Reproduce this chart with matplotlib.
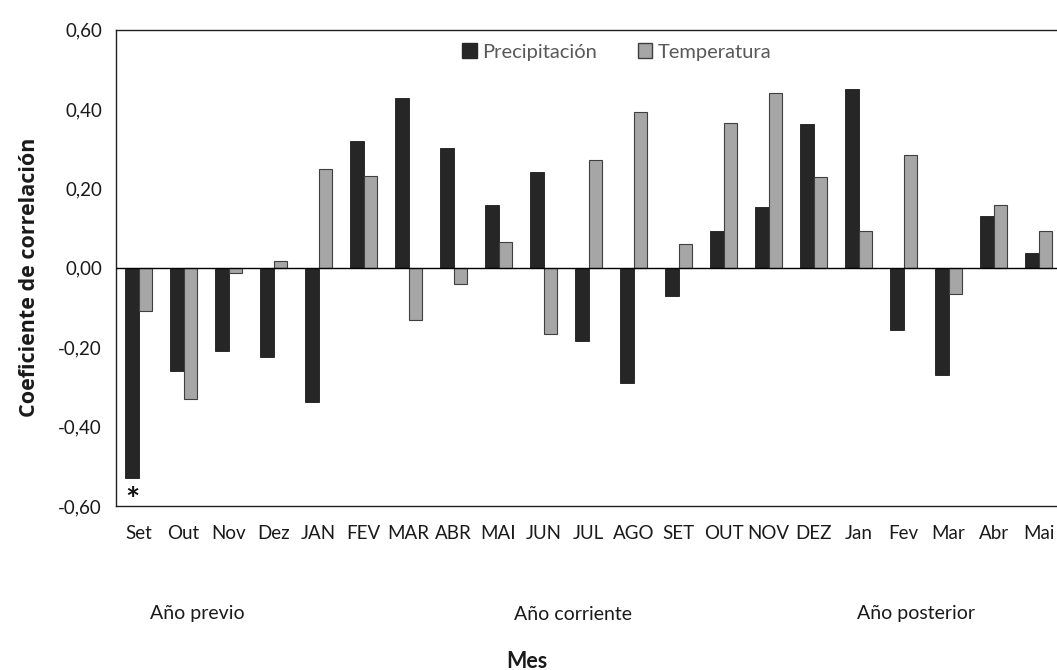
import matplotlib
matplotlib.use("Agg")
import matplotlib.pyplot as plt
import numpy as np
from matplotlib.patches import Patch

months = ["Set", "Out", "Nov", "Dez", "JAN", "FEV", "MAR", "ABR", "MAI", "JUN", "JUL",
          "AGO", "SET", "OUT", "NOV", "DEZ", "Jan", "Fev", "Mar", "Abr", "Mai"]
precipitacion = [-0.53, -0.26, -0.21, -0.225, -0.337, 0.318, 0.427, 0.301, 0.157, 0.242, -0.185,
                 -0.289, -0.07, 0.092, 0.154, 0.361, 0.451, -0.156, -0.269, 0.13, 0.037]
temperatura = [-0.11, -0.33, -0.014, 0.016, 0.248, 0.231, -0.131, -0.041, 0.064, -0.166, 0.272,
               0.392, 0.06, 0.364, 0.44, 0.228, 0.092, 0.283, -0.065, 0.159, 0.092]
yticks = [-0.6, -0.4, -0.2, 0.0, 0.2, 0.4, 0.6]
ytick_labels = ["-0,60", "-0,40", "-0,20", "0,00", "0,20", "0,40", "0,60"]
periods = ["Año previo", "Año corriente", "Año posterior"]

plt.rcParams['font.family'] = ['Lato', 'DejaVu Sans']

fig = plt.figure(figsize=(10.57, 6.70), dpi=100)
ax = fig.add_axes([116/1057, 1-506/670, (1061-116)/1057, (506-29.5)/670])

x = np.arange(len(months))
w = 0.29
dark = "#262626"
grey = "#a6a6a6"
ax.bar(x - w/2, precipitacion, w, color=dark, edgecolor="#1a1a1a", linewidth=0.6, zorder=2)
ax.bar(x + w/2, temperatura, w, color=grey, edgecolor="#3f3f3f", linewidth=0.8, zorder=2)
ax.axhline(0, color="black", linewidth=1.0, zorder=3)

ax.set_xlim(-0.5, len(months) - 0.5)
ax.set_ylim(-0.6, 0.6)
ax.set_yticks(yticks)
ax.set_yticklabels(ytick_labels, fontsize=13.5, color="#1a1a1a")
ax.set_xticks(x)
ax.set_xticklabels(months, fontsize=13.5, color="#1a1a1a")
ax.tick_params(axis='both', length=0)
ax.tick_params(axis='x', pad=14)
ax.tick_params(axis='y', pad=10)
for s in ax.spines.values():
    s.set_color("#222222")
    s.set_linewidth(1.0)

ax.set_ylabel("Coeficiente de correlación", fontsize=15.5, fontweight='bold', color="#1a1a1a",
              family=['Open Sans', 'DejaVu Sans'])
ax.yaxis.set_label_coords(-(116 - 40) / 945, 0.48)

ax.text(x[0] - w/2, -0.588, "*", ha='center', va='center', fontsize=24, fontweight='bold', color="#111111")

# period labels and axis title
fig.text(197/1057, 1-614/670, periods[0], ha='center', va='center', fontsize=14, color="#1a1a1a")
fig.text(573/1057, 1-614/670, periods[1], ha='center', va='center', fontsize=14, color="#1a1a1a")
fig.text(916/1057, 1-614/670, periods[2], ha='center', va='center', fontsize=14, color="#1a1a1a")
fig.text(527/1057, 1-661/670, "Mes", ha='center', va='center', fontsize=15.5, fontweight='bold', color="#1a1a1a")

handles = [Patch(facecolor=dark, edgecolor=dark, label="Precipitación"),
           Patch(facecolor=grey, edgecolor="#3f3f3f", label="Temperatura")]
leg = fig.legend(handles=handles, loc='center', bbox_to_anchor=(617/1057, 1-52/670), ncol=2,
                 frameon=False, fontsize=14.5, handlelength=0.7, handleheight=0.7,
                 handletextpad=0.3, columnspacing=2.0)
for t in leg.get_texts():
    t.set_color("#595959")

fig.savefig("out.png", dpi=100)
